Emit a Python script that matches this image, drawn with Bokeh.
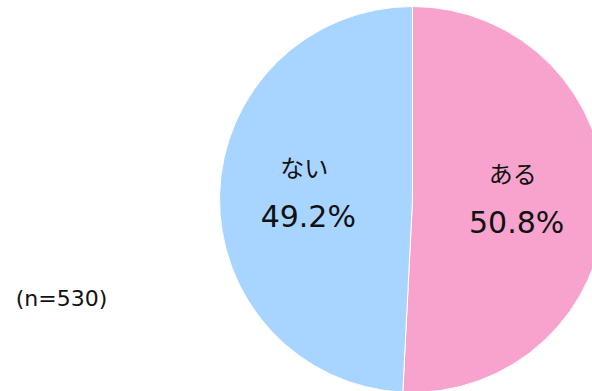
import math
from bokeh.plotting import figure
from bokeh.models import ColumnDataSource
from bokeh.core.properties import value
from bokeh.embed import file_html
from bokeh.resources import INLINE

labels = ["ある", "ない"]
percents = [50.8, 49.2]
colors = ["#F7A3CD", "#A8D5FF"]
note = "(n=530)"

W, H = 592, 391
cx, cy, r = 412, H - 199, 193

p = figure(width=W, height=H, x_range=(0, W), y_range=(0, H),
           output_backend="svg", toolbar_location=None, min_border=0)
p.axis.visible = False
p.grid.visible = False
p.outline_line_color = None
p.background_fill_color = "white"
p.border_fill_color = "white"

total = sum(percents)
starts, ends, lxn, lxp, ly_name, ly_pct, pct_txt = [], [], [], [], [], [], []
ang = math.pi / 2
for v in percents:
    a = 2 * math.pi * v / total
    s, e = ang, ang - a
    starts.append(s)
    ends.append(e)
    mid = (s + e) / 2
    rf = 0.54 * r
    x = cx + rf * math.cos(mid)
    y = cy + rf * math.sin(mid)
    lxn.append(x - 4)
    lxp.append(x)
    ly_name.append(y + 30)
    ly_pct.append(y - 20)
    pct_txt.append(f"{v:.1f}%")
    ang = e

src = ColumnDataSource(dict(start=starts, end=ends, color=colors,
                            xn=lxn, xp=lxp, yn=ly_name, yp=ly_pct,
                            name=labels, pct=pct_txt))

p.wedge(x=cx, y=cy, radius=r, start_angle="start", end_angle="end",
        direction="clock", fill_color="color", line_color="white",
        line_width=1, source=src)

p.text(x="xn", y="yn", text="name", source=src, text_align="center",
       text_baseline="middle", text_font=value("Noto Sans CJK JP"),
       text_font_size="24px", text_color="#111111")
p.text(x="xp", y="yp", text="pct", source=src, text_align="center",
       text_baseline="middle", text_font=value("DejaVu Sans"),
       text_font_size="30px", text_color="#111111")

p.text(x=[61], y=[H - 298], text=[note], text_align="center",
       text_baseline="middle", text_font=value("DejaVu Sans"),
       text_font_size="22px", text_color="#111111")

open("out.html", "w").write(file_html(p, INLINE))
